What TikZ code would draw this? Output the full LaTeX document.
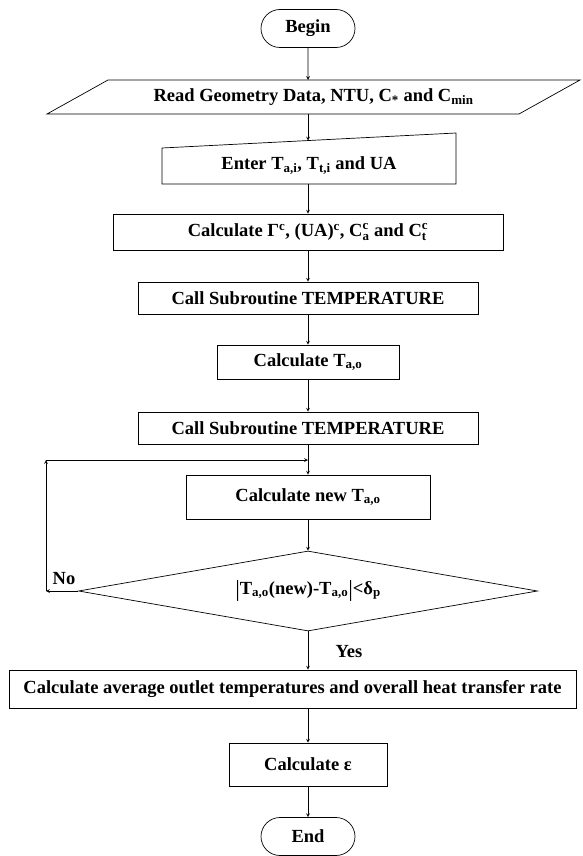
\documentclass[tikz,border=0pt]{standalone}
\usepackage{amsmath}
\usepackage{fontspec}
\setmainfont{Liberation Serif}
\usepackage{tikz}
\usetikzlibrary{shapes,arrows,positioning,shapes.geometric,shapes.misc}

\newcommand{\Csupsub}[2]{$\text{C}^{\text{#1}}_{\text{#2}}$}
\newcommand{\tallbar}{\raisebox{-2.5pt}{\fontsize{23}{23}\selectfont\mdseries|}}

\begin{document}
\begin{tikzpicture}[
    x=1pt, y=-1pt, line width=0.7pt,
    every node/.style={font=\bfseries\fontsize{18.5}{22}\selectfont},
    terminal/.style={rounded rectangle, draw, minimum width=94, minimum height=38, inner sep=0},
    procbox/.style={rectangle, draw, inner sep=0},
    decision/.style={diamond, draw, aspect=5.7, inner sep=0},
    arrow/.style={->, >=stealth}
]
    \useasboundingbox (0,0) rectangle (582,856);

    % Input steps
    \node[terminal] (begin) at (308,28.5) {Begin};
    \draw (47,114) -- (108,80) -- (580,80) -- (519,114) -- cycle;
    \coordinate (readtop) at (308,80);
    \coordinate (readbot) at (308,114);
    \node (readdata) at (313.5,97) {Read Geometry Data, NTU, C\textsubscript{*} and C\textsubscript{min}};
    \draw (162,148) -- (456,133) -- (456,184) -- (162,184) -- cycle;
    \coordinate (entertop) at (308,140.5);
    \coordinate (enterbot) at (308,184);
    \node (enter) at (309,166) {Enter T\textsubscript{a,i}, T\textsubscript{t,i} and UA};

    % Calculation steps
    \node[procbox, minimum width=390, minimum height=36] (calcfirst) at (308,232) {Calculate Γ\textsuperscript{c}, (UA)\textsuperscript{c}, \Csupsub{c}{a} and \Csupsub{c}{t}};
    \node[procbox, minimum width=340, minimum height=32] (callsub1) at (308,298) {Call Subroutine TEMPERATURE};
    \node[procbox, minimum width=182, minimum height=34] (calcto) at (308,362) {Calculate T\textsubscript{a,o}};
    \node[procbox, minimum width=340, minimum height=32] (callsub2) at (308,428) {Call Subroutine TEMPERATURE};
    \node[procbox, minimum width=244, minimum height=44] (calcnew) at (308,497) {Calculate new T\textsubscript{a,o}};
    \node[decision, minimum width=459, minimum height=80] (check) at (308,591) {\tallbar T\textsubscript{a,o}(new)-T\textsubscript{a,o}\tallbar<δ\textsubscript{p}};
    \node[procbox, minimum width=567, minimum height=38] (calcavg) at (292.5,689) {Calculate average outlet temperatures and overall heat transfer rate};
    \node[procbox, minimum width=158, minimum height=43] (calceps) at (308,764.5) {Calculate ε};
    \node[terminal] (finish) at (308,836.5) {End};

    % Loop back
    \coordinate (loopbl) at (46,591);
    \coordinate (looptl) at (46,460);
    \coordinate (loopjoin) at (308,460);
    \node (no) at (64,579) {No};
    \node (yes) at (349,652) {Yes};

    % Connections
    \draw[arrow] (begin) -- (readtop);
    \draw[arrow] (readbot) -- (entertop);
    \draw[arrow] (enterbot) -- (calcfirst);
    \draw[arrow] (calcfirst) -- (callsub1);
    \draw[arrow] (callsub1) -- (calcto);
    \draw[arrow] (calcto) -- (callsub2);
    \draw[arrow] (callsub2) -- (calcnew);
    \draw[arrow] (calcnew) -- (check);
    \draw[arrow] (check.west) -- (loopbl);
    \draw[arrow] (loopbl) -- (looptl);
    \draw[arrow] (looptl) -- (loopjoin);
    \draw[arrow] (check) -- (check |- calcavg.north);
    \draw[arrow] (calcavg.south -| calceps) -- (calceps);
    \draw[arrow] (calceps) -- (finish);
\end{tikzpicture}
\end{document}
